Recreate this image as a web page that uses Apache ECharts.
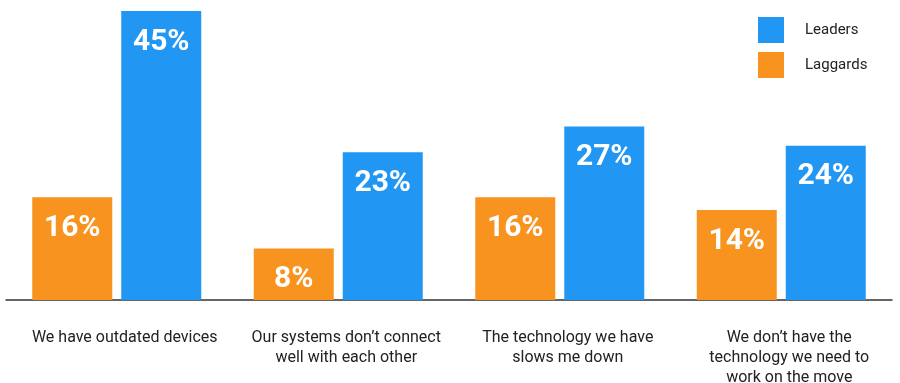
<!DOCTYPE html>
<html>
<head>
<meta charset="utf-8">
<script src="https://cdn.jsdelivr.net/npm/echarts@6/dist/echarts.min.js"></script>
<style>
  html, body { margin: 0; padding: 0; background: #fff; }
  #chart { width: 900px; height: 383px; }
</style>
</head>
<body>
<div id="chart"></div>
<script>
const categories = [
  'We have outdated devices',
  'Our systems don\u2019t connect\nwell with each other',
  'The technology we have\nslows me down',
  'We don\u2019t have the\ntechnology we need to\nwork on the move'
]
const laggards = [16, 8, 16, 14]
const leaders = [45, 23, 27, 24]

const chart = echarts.init(document.getElementById('chart'))

const barLabel = {
  show: true,
  position: 'insideTop',
  distance: 16,
  color: '#fff',
  fontSize: 30,
  fontWeight: 'bold',
  fontFamily: 'Roboto',
  formatter: '{c}%'
}

const option = {
  animation: false,
  textStyle: { fontFamily: 'Roboto' },
  legend: {
    data: ['Leaders', 'Laggards'],
    orient: 'vertical',
    left: 753,
    top: 12,
    itemWidth: 26,
    itemHeight: 26,
    itemGap: 9,
    icon: 'rect',
    textStyle: { fontSize: 15, color: '#222', padding: [0, 0, 0, 16] }
  },
  grid: {
    left: 6,
    right: 8,
    top: 11,
    bottom: 83,
    outerBoundsMode: 'none'
  },
  xAxis: {
    type: 'category',
    data: categories,
    axisLine: { lineStyle: { color: '#333', width: 1.5 } },
    axisTick: { show: false },
    axisLabel: {
      margin: 28,
      fontSize: 16,
      lineHeight: 20,
      color: '#222',
      interval: 0,
      verticalAlign: 'top',
      padding: [0, 0, 0, 16]
    }
  },
  yAxis: {
    type: 'value',
    min: 0,
    max: 45,
    show: false,
    splitLine: { show: false }
  },
  series: [
    {
      name: 'Laggards',
      type: 'bar',
      data: laggards,
      barWidth: 80,
      barGap: '11.25%',
      itemStyle: { color: '#F7931E' },
      label: barLabel
    },
    {
      name: 'Leaders',
      type: 'bar',
      data: leaders,
      barWidth: 80,
      itemStyle: { color: '#2196F3' },
      label: barLabel
    }
  ]
}

chart.setOption(option)
</script>
</body>
</html>
